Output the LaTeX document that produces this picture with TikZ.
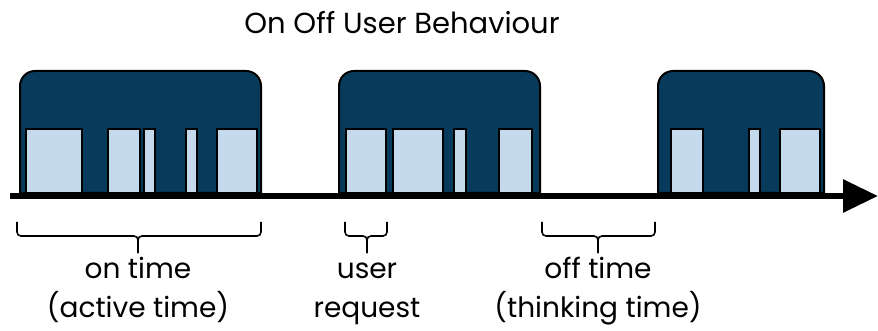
\documentclass[tikz,border=0pt]{standalone}
\usepackage{fontspec}
\setmainfont{Poppins}
\usetikzlibrary{arrows.meta, positioning}
\definecolor{sessionBlue}{RGB}{8,58,92}
\definecolor{requestBlue}{RGB}{197,217,236}

\begin{document}
\begin{tikzpicture}[x=1pt, y=-1pt,
    session/.style={draw=black, line width=2pt, fill=sessionBlue, rounded corners=15pt},
    request/.style={draw=black, line width=2pt, fill=requestBlue},
    timeline/.style={-{Triangle[length=35pt, width=32pt]}, line width=6pt},
    timebrace/.style={line width=1.6pt, rounded corners=4pt},
    label/.style={font=\fontsize{28}{34}\selectfont, inner sep=0pt, anchor=base}
]
\useasboundingbox (0,0) rectangle (878,331);

% Title
\node[label, font=\fontsize{29}{34}\selectfont] (title) at (402,34) {On Off User Behaviour};

% On periods (top corners rounded, bottom sits on the time axis)
\foreach \l/\r [count=\i] in {20/261, 339/540, 658/824} {
  \draw[session] (\l,193) -- (\l,71) -- (\r,71) [sharp corners] -- (\r,193) -- cycle;
}

% Single user requests inside the on periods
\foreach \l/\r in {26/82, 108/140, 144/155, 186/197, 217/257,
                   346/386, 393/443, 454/466, 499/532,
                   671/703, 749/760, 780/820} {
  \draw[request] (\l,129) rectangle (\r,193);
}

% Time axis
\coordinate (tstart) at (10,196);
\coordinate (tend) at (878,196);
\draw[timeline] (tstart) -- (tend);

% Braces under the axis
\foreach \l/\m/\r/\name in {17/138/261/ontime, 345/367/387/req, 542/598/655/offtime} {
  \coordinate (\name-tip) at (\m,253);
  \draw[timebrace] (\l,222) |- (\m,236) -- (\name-tip);
  \draw[timebrace] (\r,222) |- (\m,236) -- (\name-tip);
}

% Labels, two lines each (baselines 39pt apart)
\foreach \name/\first/\second in {ontime/on time/(active time), req/user/request, offtime/off time/(thinking time)} {
  \node[label] (\name-a) at ([yshift=-25pt]\name-tip) {\first};
  \node[label] (\name-b) at ([yshift=-39pt]\name-a.base) {\second};
}

\end{tikzpicture}
\end{document}
